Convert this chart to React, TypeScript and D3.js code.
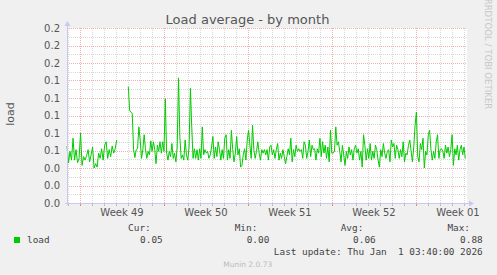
import React from "react";
import * as d3 from "d3";

// ---- data ----
const title = "Load average - by month";
const yLabel = "load";
const seriesName = "load";
const yTickValues = [0, 0.02, 0.04, 0.06, 0.08, 0.1, 0.12, 0.14, 0.16, 0.18, 0.2];
const yTickLabels = ["0.0", "0.0", "0.0", "0.1", "0.1", "0.1", "0.1", "0.1", "0.2", "0.2", "0.2"];
const rangeStart = Date.UTC(2025, 10, 29, 22, 0, 0);
const rangeHours = 800;
// segment 1 (before data gap)
const seg1StartHour = 0;
const seg1EndHour = 99.4;
const seg1Values = [
  0.065, 0.046, 0.059, 0.049, 0.074, 0.049, 0.061, 0.046, 0.051, 0.080, 0.043, 0.053,
  0.049, 0.054, 0.061, 0.047, 0.055, 0.064, 0.040, 0.045, 0.041, 0.057, 0.051, 0.062,
  0.049, 0.066, 0.070, 0.051, 0.061, 0.053, 0.065, 0.057, 0.062, 0.072,
];
// segment 2 (after data gap)
const seg2StartHour = 122.6;
const seg2EndHour = 796.6;
const seg2Values = [
  0.133, 0.106, 0.104, 0.102, 0.061, 0.052, 0.061, 0.062, 0.087, 0.072, 0.051, 0.061,
  0.078, 0.062, 0.051, 0.059, 0.055, 0.071, 0.059, 0.070, 0.061, 0.045, 0.066, 0.059,
  0.070, 0.057, 0.070, 0.059,
  0.119, 0.057, 0.049, 0.059, 0.053, 0.068, 0.051, 0.057, 0.047, 0.064, 0.143, 0.076,
  0.051, 0.055, 0.049, 0.072, 0.055, 0.049, 0.064, 0.131, 0.087, 0.051, 0.062, 0.051,
  0.061, 0.049, 0.062, 0.051, 0.087, 0.055, 0.061, 0.057, 0.059, 0.051, 0.055, 0.064,
  0.076, 0.051, 0.064, 0.053, 0.070, 0.061, 0.049, 0.061, 0.051, 0.074, 0.078, 0.049,
  0.061, 0.051, 0.083, 0.061, 0.047, 0.057, 0.076, 0.055, 0.062, 0.041, 0.043, 0.055,
  0.062, 0.049, 0.072, 0.083, 0.066, 0.051, 0.089, 0.061, 0.051, 0.059, 0.070, 0.057,
  0.049, 0.061, 0.057, 0.061, 0.055,
  0.061, 0.049, 0.064, 0.066, 0.055, 0.061, 0.051, 0.061, 0.068, 0.049, 0.057, 0.051,
  0.061, 0.053, 0.045, 0.053, 0.062, 0.055, 0.074, 0.047, 0.061, 0.053, 0.066, 0.059,
  0.062, 0.059, 0.061, 0.051, 0.070, 0.066, 0.051, 0.059, 0.072, 0.053, 0.066, 0.061,
  0.062, 0.049, 0.062, 0.057, 0.074, 0.053, 0.070, 0.057, 0.066, 0.051, 0.064, 0.047,
  0.083, 0.057, 0.057, 0.059, 0.087, 0.066, 0.070, 0.059, 0.047, 0.066, 0.055, 0.043,
  0.059, 0.051, 0.064, 0.055, 0.061, 0.049, 0.062, 0.066, 0.057, 0.062, 0.049, 0.059,
  0.041, 0.078, 0.066, 0.049,
  0.062, 0.051, 0.068, 0.049, 0.059, 0.051, 0.066, 0.061, 0.049, 0.041, 0.061, 0.053,
  0.068, 0.057, 0.051, 0.059, 0.061, 0.047, 0.072, 0.064, 0.068, 0.051, 0.066, 0.061,
  0.051, 0.061, 0.053, 0.070, 0.047, 0.057, 0.055, 0.066, 0.072, 0.059, 0.047, 0.064,
  0.089, 0.104, 0.053, 0.047, 0.068, 0.061, 0.074, 0.040, 0.059, 0.055, 0.078, 0.083,
  0.061, 0.049, 0.059, 0.051, 0.070, 0.078, 0.051, 0.061, 0.062, 0.059, 0.051, 0.066,
  0.057, 0.064, 0.053, 0.061, 0.078, 0.043, 0.062, 0.055, 0.066, 0.049, 0.061, 0.066,
  0.055, 0.064, 0.051,
];
const legendHeaders = ["Cur:", "Min:", "Avg:", "Max:"];
const legendValues = ["0.05", "0.00", "0.06", "0.88"];
const lastUpdate = "Last update: Thu Jan  1 03:40:00 2026";
const footer = "Munin 2.0.73";
const watermark = "RRDTOOL / TOBI OETIKER";

// ---- layout ----
const W = 497;
const H = 275;
const L = 67;
const R = 467;
const T = 28;
const B = 203;
const HOUR = 3600 * 1000;
const lineColor = "#00cc00";
const mono = "'DejaVu Sans Mono', monospace";
const sans = "'DejaVu Sans', sans-serif";

type Pt = { t: Date; v: number };

function segPoints(startH: number, endH: number, vals: number[]): Pt[] {
  const n = vals.length;
  return vals.map((v, i) => ({
    t: new Date(rangeStart + (startH + ((endH - startH) * i) / (n - 1)) * HOUR),
    v,
  }));
}

export default function App() {
  const start = new Date(rangeStart);
  const end = new Date(rangeStart + rangeHours * HOUR);
  const x = d3.scaleUtc().domain([start, end]).range([L, R]);
  const y = d3.scaleLinear().domain([0, 0.2]).range([B, T]);

  const line = d3
    .line<Pt>()
    .x((d) => x(d.t))
    .y((d) => y(d.v));

  const segs = [
    segPoints(seg1StartHour, seg1EndHour, seg1Values),
    segPoints(seg2StartHour, seg2EndHour, seg2Values),
  ];

  const days = d3.utcDay.range(start, end);
  const mondays = d3.utcMonday.range(start, end);
  const weekFmt = d3.utcFormat("%V");
  const weekLabels = d3.utcMonday.range(start, d3.utcDay.offset(end, 7)).map((m) => ({
    label: "Week " + weekFmt(m),
    x: x(new Date(+m + 3.5 * 24 * HOUR)),
  }));

  const minorY = d3.range(0.01, 0.2, 0.02);

  const majorColor = "#f3b0b0";
  const minorColor = "#d8d8d8";
  const axisColor = "#c8c8f0";

  const headerEnds = [150.7, 257.3, 363.3, 470];
  const valueEnds = [162.7, 269.3, 375.7, 482.7];

  return (
    <svg width={W} height={H} style={{ position: "absolute", left: 0, top: 0, display: "block" }}>
      <rect x={0} y={0} width={W} height={H} fill="#f0f0f0" />
      <rect x={L} y={T} width={R - L} height={B - T} fill="#ffffff" />

      {/* minor grid */}
      {days.map((d, i) => (
        <line key={"dv" + i} x1={x(d) + 0.5} x2={x(d) + 0.5} y1={T} y2={B} stroke={minorColor} strokeDasharray="1,1" />
      ))}
      {minorY.map((v, i) => (
        <line key={"mh" + i} x1={L} x2={R} y1={Math.round(y(v)) + 0.5} y2={Math.round(y(v)) + 0.5} stroke={minorColor} strokeDasharray="1,1" />
      ))}
      {/* major grid */}
      {mondays.map((d, i) => (
        <line key={"wv" + i} x1={x(d) + 0.5} x2={x(d) + 0.5} y1={T} y2={B} stroke={majorColor} strokeDasharray="1,1" />
      ))}
      {yTickValues.slice(1).map((v, i) => (
        <line key={"Mh" + i} x1={L} x2={R} y1={Math.round(y(v)) + 0.5} y2={Math.round(y(v)) + 0.5} stroke={majorColor} strokeDasharray="1,1" />
      ))}

      {/* data line */}
      {segs.map((s, i) => (
        <path key={"s" + i} d={line(s) || ""} fill="none" stroke={lineColor} strokeWidth={1} />
      ))}

      {/* axes */}
      <line x1={L - 2} x2={R + 2} y1={B + 0.5} y2={B + 0.5} stroke={axisColor} />
      <path d={`M${R + 2},${B - 2.5} L${R + 7},${B + 0.5} L${R + 2},${B + 3.5} Z`} fill={axisColor} />
      <line x1={L + 0.5} x2={L + 0.5} y1={B + 2} y2={T - 2} stroke={axisColor} />
      <path d={`M${L - 2.5},${T - 2} L${L + 0.5},${T - 7} L${L + 3.5},${T - 2} Z`} fill={axisColor} />
      {days.map((d, i) => (
        <line key={"tk" + i} x1={x(d) + 0.5} x2={x(d) + 0.5} y1={B + 1} y2={B + 3} stroke="#bbbbbb" />
      ))}
      {mondays.map((d, i) => (
        <line key={"Tk" + i} x1={x(d) + 0.5} x2={x(d) + 0.5} y1={B + 1} y2={B + 3} stroke="#f08080" />
      ))}

      {/* y tick labels */}
      {yTickValues.map((v, i) => (
        <text key={"yl" + i} x={60} y={y(v)} dy="0.35em" textAnchor="end" fontFamily={sans} fontSize={10} fill="#555">
          {yTickLabels[i]}
        </text>
      ))}
      {/* x labels */}
      {weekLabels
        .filter((w) => w.x < W)
        .map((w, i) => (
          <text key={"xl" + i} x={w.x} y={216} textAnchor="middle" fontFamily={sans} fontSize={10} fill="#555">
            {w.label}
          </text>
        ))}

      {/* title */}
      <text x={247.5} y={24} textAnchor="middle" fontFamily={sans} fontSize={13} fill="#555">
        {title}
      </text>
      <text transform="translate(14,114) rotate(-90)" textAnchor="middle" fontFamily={sans} fontSize={11} fill="#555">
        {yLabel}
      </text>
      <text transform="translate(485,54) rotate(90)" textAnchor="middle" fontFamily={sans} fontSize={8.6} fill="#c8c8c8">
        {watermark}
      </text>

      {/* legend */}
      <rect x={14} y={237} width={6} height={6} fill={lineColor} />
      <text x={27} y={243} fontFamily={mono} fontSize={9.4} fill="#444">
        {seriesName}
      </text>
      {legendHeaders.map((h, i) => (
        <text key={"lh" + i} x={headerEnds[i]} y={231} textAnchor="end" fontFamily={mono} fontSize={9.4} fill="#444">
          {h}
        </text>
      ))}
      {legendValues.map((v, i) => (
        <text key={"lv" + i} x={valueEnds[i]} y={243} textAnchor="end" fontFamily={mono} fontSize={9.4} fill="#444">
          {v}
        </text>
      ))}
      <text x={482.7} y={255} textAnchor="end" fontFamily={mono} fontSize={9.4} fill="#444" style={{ whiteSpace: "pre" }}>
        {lastUpdate}
      </text>
      <text x={247.7} y={267} textAnchor="middle" fontFamily={sans} fontSize={7.5} fill="#bbbbbb">
        {footer}
      </text>
    </svg>
  );
}
